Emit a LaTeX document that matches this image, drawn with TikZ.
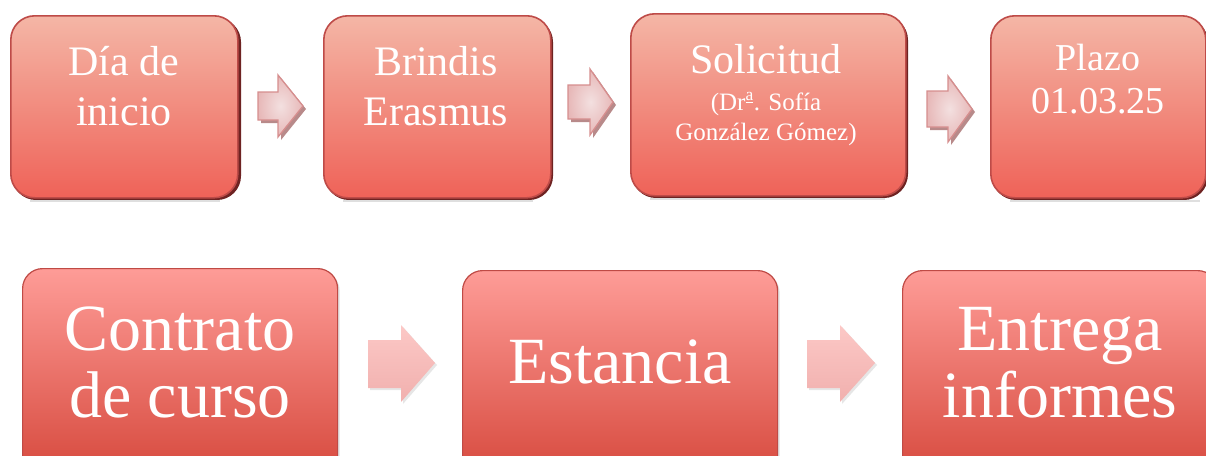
\documentclass[tikz,border=0pt]{standalone}
\usepackage{fontspec}
\setmainfont{Liberation Serif}
\usetikzlibrary{shadows}
\begin{document}
\begin{tikzpicture}[x=1pt,y=-1pt,
  topbox/.style={draw=topedge, line width=1.6pt, rounded corners=24pt,
    top color=toptop, bottom color=topbot},
  topshadow/.style={fill=shadowdark, rounded corners=24pt},
  botbox/.style={draw=botedge, line width=1.2pt, rounded corners=20pt,
    top color=bottop, bottom color=botbot, drop shadow={shadow xshift=2pt, shadow yshift=-2pt, opacity=0.25}},
  toparrow/.style={draw=arrowedge, line width=1.3pt, inner color=arrowin, outer color=arrowout},
  arrowshadow/.style={fill=arrowshade},
  botarrow/.style={top color=barrowtop, bottom color=barrowbot, drop shadow={shadow xshift=2pt, shadow yshift=-2pt, opacity=0.2}},
  txt/.style={text=white, inner sep=0pt, anchor=base, align=center},
]
\definecolor{toptop}{HTML}{F4B6A6}
\definecolor{topbot}{HTML}{EF6258}
\definecolor{topedge}{HTML}{BE4B48}
\definecolor{shadowdark}{HTML}{6E2322}
\definecolor{bottop}{HTML}{FE9C97}
\definecolor{botbot}{HTML}{D6483C}
\definecolor{botedge}{HTML}{BF4A45}
\definecolor{arrowin}{HTML}{F3E0E0}
\definecolor{arrowout}{HTML}{E7B8B8}
\definecolor{arrowedge}{HTML}{D68E8E}
\definecolor{arrowshade}{HTML}{B88A8A}
\definecolor{barrowtop}{HTML}{FCC8C6}
\definecolor{barrowbot}{HTML}{F1B0AE}
\useasboundingbox (0,0) rectangle (1206,455);
\begin{scope}
\clip (0,0) rectangle (1206,455);
% top row shadows
\fill[topshadow] (12,18) rectangle (241,200);
\fill[topshadow] (325,18) rectangle (553,200);
\fill[topshadow] (632,16) rectangle (908,198);
\fill[topshadow] (992,18) rectangle (1208,200);
% top row boxes
\node[topbox, minimum width=227pt, minimum height=182pt, anchor=north west] (b1) at (10,15) {};
\node[topbox, minimum width=227pt, minimum height=182pt, anchor=north west] (b2) at (323,15) {};
\node[topbox, minimum width=275pt, minimum height=182pt, anchor=north west] (b3) at (630,13) {};
\node[topbox, minimum width=215pt, minimum height=182pt, anchor=north west] (b4) at (990,15) {};
% reflections
\draw[gray!25, line width=1.2pt] (30,201) -- (220,201);
\draw[gray!25, line width=1.2pt] (343,201) -- (533,201);
\draw[gray!25, line width=1.2pt] (650,199) -- (885,199);
\draw[gray!25, line width=1.2pt] (1010,201) -- (1200,201);
% top arrows
\coordinate (a1) at (258,92);
\fill[arrowshadow] ([shift={(3,3)}]a1) -- ++(20,0) -- ++(0,-17) -- ++(25,31) -- ++(-25,31) -- ++(0,-17) -- ++(-20,0) -- cycle;
\path[toparrow] (a1) -- ++(20,0) -- ++(0,-17) -- ++(25,31) -- ++(-25,31) -- ++(0,-17) -- ++(-20,0) -- cycle;
\coordinate (a2) at (568,85);
\fill[arrowshadow] ([shift={(3,3)}]a2) -- ++(22,0) -- ++(0,-16) -- ++(23,33) -- ++(-23,33) -- ++(0,-16) -- ++(-22,0) -- cycle;
\path[toparrow] (a2) -- ++(22,0) -- ++(0,-16) -- ++(23,33) -- ++(-23,33) -- ++(0,-16) -- ++(-22,0) -- cycle;
\coordinate (a3) at (927,91);
\fill[arrowshadow] ([shift={(3,3)}]a3) -- ++(21,0) -- ++(0,-15) -- ++(24,33) -- ++(-24,33) -- ++(0,-15) -- ++(-21,0) -- cycle;
\path[toparrow] (a3) -- ++(21,0) -- ++(0,-15) -- ++(24,33) -- ++(-24,33) -- ++(0,-15) -- ++(-21,0) -- cycle;
% bottom boxes
\node[botbox, minimum width=315pt, minimum height=210pt, anchor=north west] (c1) at (22,268) {};
\node[botbox, minimum width=315pt, minimum height=210pt, anchor=north west] (c2) at (462,270) {};
\node[botbox, minimum width=315pt, minimum height=210pt, anchor=north west] (c3) at (902,270) {};
% bottom arrows
\coordinate (d1) at (368,340);
\path[botarrow] (d1) -- ++(33,0) -- ++(0,-15) -- ++(34,38) -- ++(-34,39) -- ++(0,-14) -- ++(-33,0) -- cycle;
\coordinate (d2) at (807,340);
\path[botarrow] (d2) -- ++(33,0) -- ++(0,-15) -- ++(35,38) -- ++(-35,39) -- ++(0,-14) -- ++(-33,0) -- cycle;
\end{scope}
% texts (anchor = baseline of last line)
\node[txt, font=\fontsize{42}{50}\selectfont] (t1) at (124,125) {Día de\\inicio};
\node[txt, font=\fontsize{42}{50}\selectfont] (t2) at (436,125) {Brindis\\Erasmus};
\node[txt, font=\fontsize{42}{50}\selectfont] (t3a) at (766,73) {Solicitud};
\node[txt, font=\fontsize{25}{30}\selectfont] (t3b) at (766,140) {(Dr\textsuperscript{\underline{a}}. Sofía\\González Gómez)};
\node[txt, font=\fontsize{38}{43}\selectfont] (t4) at (1098,113) {Plazo\\01.03.25};
\node[txt, font=\fontsize{66}{67}\selectfont] (u1) at (180,417) {Contrato\\de curso};
\node[txt, font=\fontsize{66}{67}\selectfont] (u2) at (620,383) {Estancia};
\node[txt, font=\fontsize{66}{67}\selectfont] (u3) at (1060,417) {Entrega\\informes};
\end{tikzpicture}
\end{document}
